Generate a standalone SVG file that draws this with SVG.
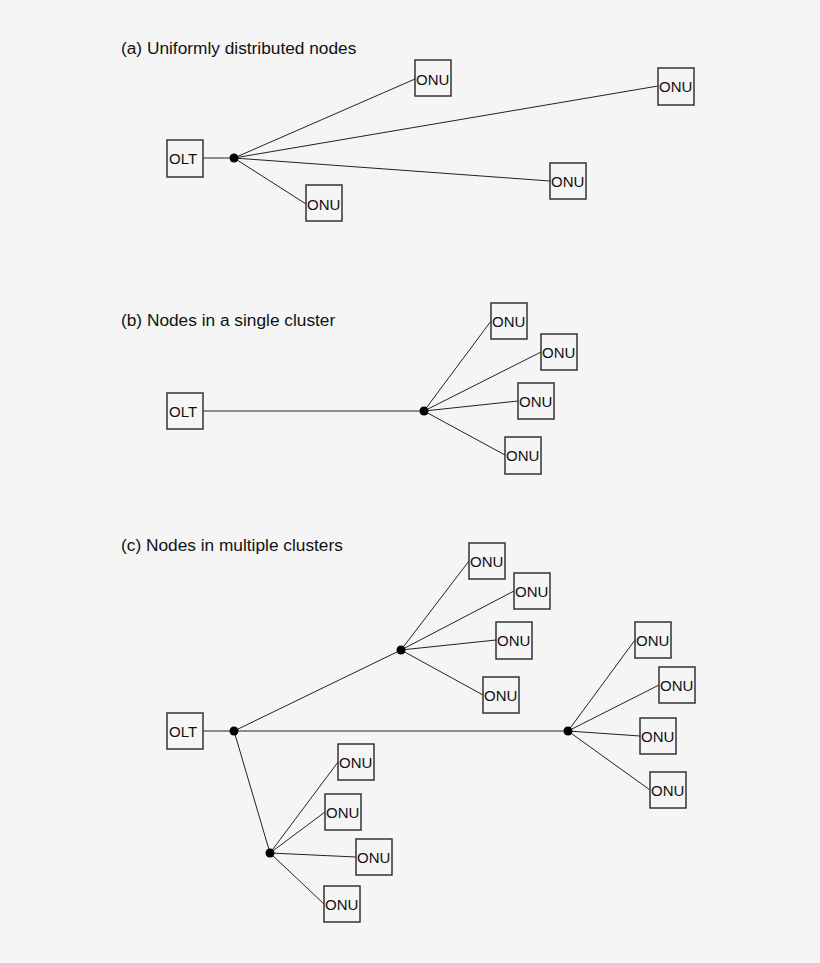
<svg xmlns="http://www.w3.org/2000/svg" width="820" height="963" viewBox="0 0 820 963">
<style>
.b{fill:none;stroke:#333;stroke-width:1.5}
.t{font-family:"Liberation Sans",Arial,sans-serif;font-size:15px;fill:#111}
.h{font-family:"Liberation Sans",Arial,sans-serif;font-size:17.3px;fill:#111}
.c line{stroke:#222;stroke-width:1}
.d{fill:#000}
</style>
<rect width="820" height="963" fill="#f5f5f5"/>
<text class="h" x="121" y="54">(a) Uniformly distributed nodes</text>
<text class="h" x="121" y="326">(b) Nodes in a single cluster</text>
<text class="h" x="121" y="551">(c) Nodes in multiple clusters</text>
<g class="c" id="connectors">
<line x1="203" y1="158" x2="234" y2="158"/>
<line x1="234" y1="158" x2="415" y2="79"/>
<line x1="234" y1="158" x2="658" y2="86"/>
<line x1="234" y1="158" x2="550" y2="181"/>
<line x1="234" y1="158" x2="306" y2="204"/>
<line x1="203" y1="411" x2="424" y2="411"/>
<line x1="424" y1="411" x2="491" y2="321"/>
<line x1="424" y1="411" x2="541" y2="352"/>
<line x1="424" y1="411" x2="518" y2="401"/>
<line x1="424" y1="411" x2="505" y2="455"/>
<line x1="203" y1="731" x2="568" y2="731"/>
<line x1="234" y1="731" x2="401" y2="650"/>
<line x1="234" y1="731" x2="270" y2="853"/>
<line x1="401" y1="650" x2="469" y2="561"/>
<line x1="401" y1="650" x2="514" y2="591"/>
<line x1="401" y1="650" x2="496" y2="640"/>
<line x1="401" y1="650" x2="483" y2="695"/>
<line x1="568" y1="731" x2="635" y2="640"/>
<line x1="568" y1="731" x2="659" y2="685"/>
<line x1="568" y1="731" x2="640" y2="736"/>
<line x1="568" y1="731" x2="650" y2="790"/>
<line x1="270" y1="853" x2="338" y2="762"/>
<line x1="270" y1="853" x2="325" y2="812"/>
<line x1="270" y1="853" x2="356" y2="857"/>
<line x1="270" y1="853" x2="324" y2="904"/>
</g>
<g id="splitters">
<circle class="d" cx="234" cy="158" r="4.5"/>
<circle class="d" cx="424" cy="411" r="4.5"/>
<circle class="d" cx="234" cy="731" r="4.5"/>
<circle class="d" cx="401" cy="650" r="4.5"/>
<circle class="d" cx="568" cy="731" r="4.5"/>
<circle class="d" cx="270" cy="853" r="4.5"/>
</g>
<g id="olt-a"><rect class="b" x="167" y="140" width="36" height="37"/><text class="t" x="169" y="164">OLT</text></g>
<g id="olt-b"><rect class="b" x="167" y="393" width="36" height="36"/><text class="t" x="169" y="417">OLT</text></g>
<g id="olt-c"><rect class="b" x="167" y="713" width="36" height="36"/><text class="t" x="169" y="737">OLT</text></g>
<g id="a1"><rect class="b" x="415" y="60" width="36" height="36"/><text class="t" x="416" y="85">ONU</text></g>
<g id="a2"><rect class="b" x="658" y="68" width="36" height="37"/><text class="t" x="659" y="92">ONU</text></g>
<g id="a3"><rect class="b" x="550" y="163" width="36" height="36"/><text class="t" x="551" y="187">ONU</text></g>
<g id="a4"><rect class="b" x="306" y="185" width="36" height="36"/><text class="t" x="307" y="210">ONU</text></g>
<g id="b1"><rect class="b" x="491" y="303" width="36" height="36"/><text class="t" x="492" y="327">ONU</text></g>
<g id="b2"><rect class="b" x="541" y="334" width="36" height="36"/><text class="t" x="542" y="358">ONU</text></g>
<g id="b3"><rect class="b" x="518" y="383" width="36" height="36"/><text class="t" x="519" y="407">ONU</text></g>
<g id="b4"><rect class="b" x="505" y="437" width="36" height="37"/><text class="t" x="506" y="461">ONU</text></g>
<g id="c1"><rect class="b" x="469" y="543" width="36" height="36"/><text class="t" x="470" y="567">ONU</text></g>
<g id="c2"><rect class="b" x="514" y="573" width="36" height="36"/><text class="t" x="515" y="597">ONU</text></g>
<g id="c3"><rect class="b" x="496" y="622" width="36" height="37"/><text class="t" x="497" y="646">ONU</text></g>
<g id="c4"><rect class="b" x="483" y="677" width="36" height="36"/><text class="t" x="484" y="701">ONU</text></g>
<g id="c5"><rect class="b" x="635" y="622" width="36" height="36"/><text class="t" x="636" y="646">ONU</text></g>
<g id="c6"><rect class="b" x="659" y="667" width="36" height="36"/><text class="t" x="660" y="691">ONU</text></g>
<g id="c7"><rect class="b" x="640" y="718" width="36" height="36"/><text class="t" x="641" y="742">ONU</text></g>
<g id="c8"><rect class="b" x="650" y="772" width="36" height="36"/><text class="t" x="651" y="796">ONU</text></g>
<g id="c9"><rect class="b" x="338" y="744" width="36" height="36"/><text class="t" x="339" y="768">ONU</text></g>
<g id="c10"><rect class="b" x="325" y="794" width="36" height="36"/><text class="t" x="326" y="818">ONU</text></g>
<g id="c11"><rect class="b" x="356" y="839" width="36" height="36"/><text class="t" x="357" y="863">ONU</text></g>
<g id="c12"><rect class="b" x="324" y="886" width="36" height="36"/><text class="t" x="325" y="910">ONU</text></g>
</svg>
